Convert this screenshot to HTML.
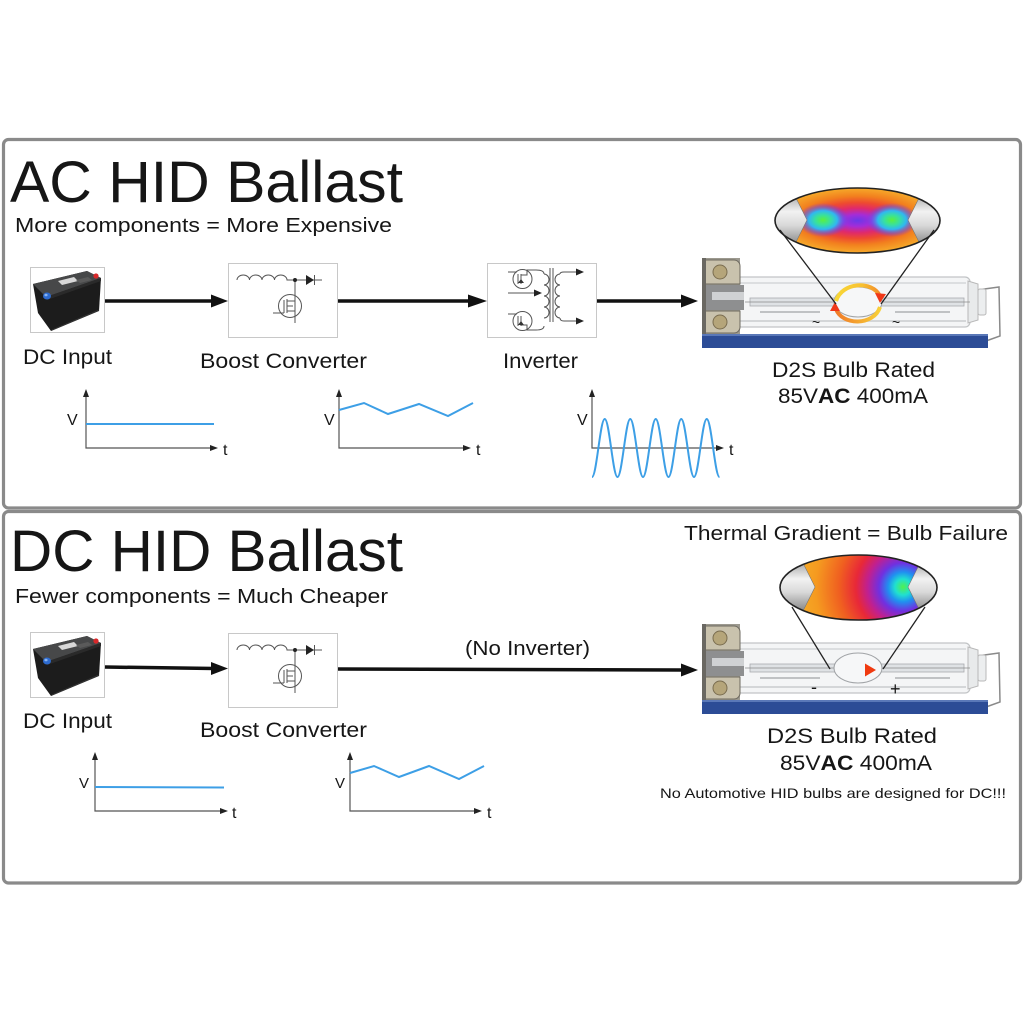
<!DOCTYPE html>
<html><head><meta charset="utf-8"><style>
html,body{margin:0;padding:0;background:#fff;}
svg{display:block;}
text{font-family:"Liberation Sans",Arial,sans-serif;fill:#161616;}
</style></head><body>
<svg width="1024" height="1024" viewBox="0 0 1024 1024" xmlns="http://www.w3.org/2000/svg" xmlns:xlink="http://www.w3.org/1999/xlink">
<defs>
  <radialGradient id="gT" cx="0.5" cy="0.5" r="0.5">
    <stop offset="0" stop-color="#6a38e8"/>
    <stop offset="0.18" stop-color="#a42cd8"/>
    <stop offset="0.38" stop-color="#e02a6a"/>
    <stop offset="0.55" stop-color="#ee4a30"/>
    <stop offset="0.75" stop-color="#f2801e"/>
    <stop offset="1" stop-color="#f6aa2a"/>
  </radialGradient>
  <radialGradient id="blob" cx="0.5" cy="0.5" r="0.5">
    <stop offset="0" stop-color="#5af040"/>
    <stop offset="0.3" stop-color="#38e0a0"/>
    <stop offset="0.55" stop-color="#30b8f0"/>
    <stop offset="0.8" stop-color="#5a5af0" stop-opacity="0.5"/>
    <stop offset="1" stop-color="#7a3cdc" stop-opacity="0"/>
  </radialGradient>
  <radialGradient id="gB" gradientUnits="userSpaceOnUse" cx="903" cy="587" r="115">
    <stop offset="0" stop-color="#50f050"/>
    <stop offset="0.07" stop-color="#20e0d0"/>
    <stop offset="0.13" stop-color="#2090f0"/>
    <stop offset="0.21" stop-color="#7030e0"/>
    <stop offset="0.31" stop-color="#c02090"/>
    <stop offset="0.41" stop-color="#e82838"/>
    <stop offset="0.56" stop-color="#f06020"/>
    <stop offset="0.76" stop-color="#f59a20"/>
    <stop offset="1" stop-color="#f6b42a"/>
  </radialGradient>
  <linearGradient id="elecL" x1="0" y1="0" x2="0" y2="1">
    <stop offset="0" stop-color="#9a9a9a"/>
    <stop offset="0.35" stop-color="#f2f2f2"/>
    <stop offset="0.6" stop-color="#d8d8d8"/>
    <stop offset="1" stop-color="#7a7a7a"/>
  </linearGradient>
  <linearGradient id="arcY" x1="0" y1="0" x2="1" y2="0">
    <stop offset="0" stop-color="#f8d838"/>
    <stop offset="0.6" stop-color="#f8c030"/>
    <stop offset="1" stop-color="#f28a28"/>
  </linearGradient>
  <linearGradient id="arcO" x1="0" y1="0" x2="1" y2="0">
    <stop offset="0" stop-color="#f07a28"/>
    <stop offset="1" stop-color="#f8d038"/>
  </linearGradient>
  <linearGradient id="arrG" x1="0" y1="0" x2="1" y2="0">
    <stop offset="0" stop-color="#f8d030"/>
    <stop offset="1" stop-color="#f03a10"/>
  </linearGradient>
  <clipPath id="clipT"><ellipse cx="857.5" cy="220.5" rx="82.5" ry="32.5"/></clipPath>
  <clipPath id="clipB"><ellipse cx="858.5" cy="587.5" rx="78.5" ry="32.5"/></clipPath>

  <!-- battery -->
  <g id="batt">
    <rect x="30.5" y="267.5" width="74" height="65" fill="#fff" stroke="#c8c8c8" stroke-width="1"/>
    <polygon points="33,284 87,271 101,278 99,311 51,331 38,313" fill="#1c1c1c"/>
    <polygon points="33,284 87,271 101,278 46,297" fill="#474849"/>
    <polygon points="46,297 101,278 101,281 47,300" fill="#2a2a2a"/>
    <polygon points="58,281 74,277 78,281 62,285" fill="#d8d8d8"/>
    <polygon points="76,280 88,277 92,280 80,283" fill="#5a5a5a"/>
    <circle cx="96" cy="276" r="2.6" fill="#d8282a"/>
    <ellipse cx="47" cy="296" rx="4" ry="3.5" fill="#2d6bd0"/>
    <ellipse cx="46" cy="295" rx="1.6" ry="1.3" fill="#8ab4f0"/>
    <line x1="52" y1="330" x2="99" y2="310" stroke="#333" stroke-width="1"/>
  </g>

  <!-- boost converter icon -->
  <g id="boost">
    <rect x="228.5" y="263.5" width="109" height="74" fill="#fff" stroke="#c8c8c8" stroke-width="1"/>
    <g fill="none" stroke="#555" stroke-width="1">
      <path d="M237,280 a6.25,5 0 0 1 12.5,0 a6.25,5 0 0 1 12.5,0 a6.25,5 0 0 1 12.5,0 a6.25,5 0 0 1 12.5,0 L322,280"/>
      <line x1="314.5" y1="275" x2="314.5" y2="285"/>
      <line x1="295" y1="280" x2="295" y2="323"/>
      <circle cx="290" cy="306" r="11.5"/>
      <line x1="273" y1="313" x2="284" y2="313"/>
      <line x1="284" y1="300" x2="284" y2="313"/>
      <line x1="287" y1="299" x2="287" y2="313"/>
      <line x1="287" y1="301" x2="295" y2="301"/>
      <line x1="287" y1="311" x2="295" y2="311"/>
      <line x1="287" y1="306" x2="293" y2="306"/>
    </g>
    <polygon points="306,275 306,285 314,280" fill="#222"/>
    <circle cx="295" cy="280" r="2" fill="#222"/>
  </g>

  <!-- bulb body -->
  <g id="bulb">
    <polyline points="955,293 999,287 1000,336 986,341" fill="none" stroke="#8a8a8a" stroke-width="1.5"/>
    <rect x="702" y="334" width="286" height="14" fill="#2c4c96"/>
    <rect x="702" y="334" width="286" height="2" fill="#5a78b8"/>
    <rect x="736" y="277" width="234" height="50" rx="5" fill="#f4f5f6" stroke="#c2c4c6" stroke-width="1.2"/>
    <line x1="740" y1="283" x2="966" y2="283" stroke="#dcdee0" stroke-width="2"/>
    <line x1="740" y1="321" x2="966" y2="321" stroke="#d4d6d8" stroke-width="2"/>
    <path d="M968,281 L978,284 L978,320 L968,323 Z" fill="#e8eaeb" stroke="#b8b8b8"/>
    <rect x="978" y="289" width="8" height="26" rx="2" fill="#eceeef" stroke="#b8b8b8"/>
    <rect x="750" y="298" width="86" height="8" fill="#dfe2e5" stroke="#a8abae" stroke-width="0.8"/>
    <rect x="880" y="298" width="84" height="8" fill="#dfe2e5" stroke="#a8abae" stroke-width="0.8"/>
    <line x1="745" y1="302" x2="970" y2="302" stroke="#8a8a8a" stroke-width="0.8"/>
    <path d="M760,312 h60 M895,312 h55" stroke="#c0c2c4" stroke-width="2"/>
    <ellipse cx="858" cy="302" rx="24" ry="15" fill="#f6f7f8" stroke="#a0a3a6" stroke-width="1"/>
    <rect x="702" y="258" width="38" height="76" fill="#9c998f"/>
    <path d="M704,260 h30 a6,6 0 0 1 6,6 v18 h-36 z" fill="#c9c2ad" stroke="#6e6a60"/>
    <circle cx="720" cy="272" r="7" fill="#b5a57a" stroke="#7a6d50"/>
    <rect x="702" y="285" width="42" height="25" fill="#8e8f90"/>
    <rect x="712" y="292" width="32" height="8" fill="#cfd1d3"/>
    <path d="M704,311 h36 v16 a6,6 0 0 1 -6,6 h-30 z" fill="#c9c2ad" stroke="#6e6a60"/>
    <circle cx="720" cy="322" r="7" fill="#b5a57a" stroke="#7a6d50"/>
    <rect x="702" y="258" width="4" height="76" fill="#6a6862"/>
  </g>
</defs>

<rect width="1024" height="1024" fill="#fff"/>

<!-- panels -->
<rect x="3.5" y="139.5" width="1017" height="368.5" rx="5" fill="none" stroke="#8a8a8a" stroke-width="3.2"/>
<rect x="3.5" y="511.5" width="1017" height="371.5" rx="5" fill="none" stroke="#8a8a8a" stroke-width="3.2"/>

<!-- ============ TOP: AC ============ -->
<text x="10" y="202" font-size="58" textLength="393" lengthAdjust="spacingAndGlyphs">AC HID Ballast</text>
<text x="15" y="232" font-size="20" textLength="377" lengthAdjust="spacingAndGlyphs">More components = More Expensive</text>

<use xlink:href="#batt"/>
<use xlink:href="#boost"/>

<!-- inverter box -->
<rect x="487.5" y="263.5" width="109" height="74" fill="#fff" stroke="#c8c8c8" stroke-width="1"/>
<g fill="none" stroke="#555" stroke-width="1">
  <circle cx="522.5" cy="279" r="9.5"/>
  <circle cx="522.5" cy="321" r="9.5"/>
  <line x1="508" y1="272" x2="517" y2="272"/>
  <line x1="508" y1="314" x2="517" y2="314"/>
  <line x1="518" y1="274" x2="518" y2="284"/>
  <line x1="521" y1="274" x2="521" y2="284"/>
  <line x1="518" y1="316" x2="518" y2="326"/>
  <line x1="521" y1="316" x2="521" y2="326"/>
  <path d="M521,275 h6 v-5 h9 q8,0 8,4"/>
  <path d="M521,325 h6 v5 h9 q8,0 8,-4"/>
  <path d="M544,274 a5,5.5 0 0 1 0,11 a5,5.5 0 0 1 0,11 a5,5.5 0 0 1 0,11 a5,5.5 0 0 1 0,11"/>
  <line x1="550" y1="268" x2="550" y2="322"/>
  <line x1="553" y1="268" x2="553" y2="322"/>
  <path d="M560,274 a5,5.5 0 0 0 0,11 a5,5.5 0 0 0 0,11 a5,5.5 0 0 0 0,11 a5,5.5 0 0 0 0,11"/>
  <path d="M560,274 q0,-2 4,-2 h14"/>
  <path d="M560,318 q0,3 4,3 h14"/>
  <line x1="508" y1="293" x2="536" y2="293"/>
</g>
<polygon points="534,289.5 542,293 534,296.5" fill="#222"/>
<polygon points="576,268.5 584,272 576,275.5" fill="#222"/>
<polygon points="576,317.5 584,321 576,324.5" fill="#222"/>
<polygon points="518,283 521,279 524,283" fill="#333"/>
<polygon points="518,325 521,321 524,325" fill="#333"/>

<!-- arrows top -->
<line x1="105" y1="301" x2="214" y2="301" stroke="#111" stroke-width="3.5"/>
<polygon points="211,294.5 228,301 211,307.5" fill="#111"/>
<line x1="338" y1="301" x2="471" y2="301" stroke="#111" stroke-width="3.5"/>
<polygon points="468,294.5 487,301 468,307.5" fill="#111"/>
<line x1="597" y1="301" x2="683" y2="301" stroke="#111" stroke-width="3.5"/>
<polygon points="681,294.5 698,301 681,307.5" fill="#111"/>

<text x="23" y="364" font-size="21" textLength="89" lengthAdjust="spacingAndGlyphs">DC Input</text>
<text x="200" y="368" font-size="21" textLength="167" lengthAdjust="spacingAndGlyphs">Boost Converter</text>
<text x="503" y="368" font-size="21" textLength="75" lengthAdjust="spacingAndGlyphs">Inverter</text>

<!-- bulb top -->
<use xlink:href="#bulb"/>
<path d="M836,301 C842,282 872,280 880,296" fill="none" stroke="url(#arcY)" stroke-width="4"/>
<path d="M880,307 C874,326 842,326 836,309" fill="none" stroke="url(#arcO)" stroke-width="4"/>
<polygon points="875,293 886,294 880,303" fill="#f03818"/>
<polygon points="830,311 840,311 835,302" fill="#f03818"/>
<text x="812" y="327" font-size="14">~</text>
<text x="892" y="327" font-size="14">~</text>

<g clip-path="url(#clipT)">
  <ellipse cx="857.5" cy="220.5" rx="82.5" ry="32.5" fill="url(#gT)"/>
  <ellipse cx="823" cy="220" rx="26" ry="17" fill="url(#blob)"/>
  <ellipse cx="892" cy="220" rx="26" ry="17" fill="url(#blob)"/>
  <polygon points="770,192 795,196 807,220 795,244 770,248" fill="url(#elecL)" stroke="#777" stroke-width="0.6"/>
  <polygon points="945,192 920,196 908,220 920,244 945,248" fill="url(#elecL)" stroke="#777" stroke-width="0.6"/>
</g>
<ellipse cx="857.5" cy="220.5" rx="82.5" ry="32.5" fill="none" stroke="#222" stroke-width="1.6"/>
<line x1="780" y1="230" x2="836" y2="304" stroke="#222" stroke-width="1.3"/>
<line x1="934" y1="230" x2="881" y2="304" stroke="#222" stroke-width="1.3"/>

<text x="772" y="377" font-size="21" textLength="163" lengthAdjust="spacingAndGlyphs">D2S Bulb Rated</text>
<text x="778" y="403" font-size="21" textLength="150" lengthAdjust="spacingAndGlyphs">85V<tspan font-weight="bold">AC</tspan> 400mA</text>

<!-- graphs top -->
<g stroke="#555" stroke-width="1.2" fill="none">
  <polyline points="86,394 86,448 212,448"/>
  <polyline points="339,394 339,448 465,448"/>
  <polyline points="592,394 592,448 718,448"/>
</g>
<g fill="#222">
  <polygon points="83,397 86,389 89,397"/>
  <polygon points="210,445 218,448 210,451"/>
  <polygon points="336,397 339,389 342,397"/>
  <polygon points="463,445 471,448 463,451"/>
  <polygon points="589,397 592,389 595,397"/>
  <polygon points="716,445 724,448 716,451"/>
</g>
<line x1="86" y1="424" x2="214" y2="424" stroke="#3d9fe6" stroke-width="2"/>
<polyline points="339,410 364,403 388,414 419,404 448,416 473,403" fill="none" stroke="#3d9fe6" stroke-width="2"/>
<path d="M592,477 C596.64,477 600.11,419 604.75,419 S612.86,477 617.5,477 S625.61,419 630.25,419 S638.36,477 643,477 S651.11,419 655.75,419 S663.86,477 668.5,477 S676.61,419 681.25,419 S689.36,477 694,477 S702.11,419 706.75,419 S714.86,477 719.5,477" fill="none" stroke="#3d9fe6" stroke-width="2"/>
<text x="67" y="425" font-size="16">V</text>
<text x="223" y="455" font-size="16">t</text>
<text x="324" y="425" font-size="16">V</text>
<text x="476" y="455" font-size="16">t</text>
<text x="577" y="425" font-size="16">V</text>
<text x="729" y="455" font-size="16">t</text>

<!-- ============ BOTTOM: DC ============ -->
<text x="10" y="571" font-size="58" textLength="393" lengthAdjust="spacingAndGlyphs">DC HID Ballast</text>
<text x="15" y="603" font-size="20" textLength="373" lengthAdjust="spacingAndGlyphs">Fewer components = Much Cheaper</text>
<text x="684" y="540" font-size="20" textLength="324" lengthAdjust="spacingAndGlyphs">Thermal Gradient = Bulb Failure</text>

<use xlink:href="#batt" y="365"/>
<use xlink:href="#boost" y="370"/>

<line x1="105" y1="667" x2="214" y2="668.5" stroke="#111" stroke-width="3.5"/>
<polygon points="211,662 228,668.5 211,675" fill="#111"/>
<line x1="338" y1="669" x2="683" y2="670" stroke="#111" stroke-width="3.5"/>
<polygon points="681,663.5 698,670 681,676.5" fill="#111"/>
<text x="465" y="655" font-size="20" textLength="125" lengthAdjust="spacingAndGlyphs">(No Inverter)</text>

<text x="23" y="728" font-size="21" textLength="89" lengthAdjust="spacingAndGlyphs">DC Input</text>
<text x="200" y="737" font-size="21" textLength="167" lengthAdjust="spacingAndGlyphs">Boost Converter</text>

<!-- bulb bottom -->
<use xlink:href="#bulb" y="366"/>
<line x1="847" y1="670" x2="868" y2="670" stroke="url(#arrG)" stroke-width="4"/>
<polygon points="865,663.5 876,670 865,676.5" fill="#f03a10"/>
<text x="811" y="693" font-size="18">-</text>
<text x="890" y="695" font-size="18">+</text>

<g clip-path="url(#clipB)">
  <ellipse cx="858.5" cy="587.5" rx="78.5" ry="32.5" fill="url(#gB)"/>
  <polygon points="775,560 803,563 815,587 803,611 775,614" fill="url(#elecL)" stroke="#777" stroke-width="0.6"/>
  <polygon points="945,560 920,563 908,587 920,611 945,614" fill="url(#elecL)" stroke="#777" stroke-width="0.6"/>
</g>
<ellipse cx="858.5" cy="587.5" rx="78.5" ry="32.5" fill="none" stroke="#222" stroke-width="1.6"/>
<line x1="792" y1="607" x2="830" y2="669" stroke="#222" stroke-width="1.3"/>
<line x1="925" y1="607" x2="883" y2="669" stroke="#222" stroke-width="1.3"/>

<text x="767" y="743" font-size="21" textLength="170" lengthAdjust="spacingAndGlyphs">D2S Bulb Rated</text>
<text x="780" y="770" font-size="21" textLength="152" lengthAdjust="spacingAndGlyphs">85V<tspan font-weight="bold">AC</tspan> 400mA</text>
<text x="660" y="798" font-size="14" textLength="346" lengthAdjust="spacingAndGlyphs">No Automotive HID bulbs are designed for DC!!!</text>

<!-- graphs bottom -->
<g stroke="#555" stroke-width="1.2" fill="none">
  <polyline points="95,757 95,811 222,811"/>
  <polyline points="350,757 350,811 476,811"/>
</g>
<g fill="#222">
  <polygon points="92,760 95,752 98,760"/>
  <polygon points="220,808 228,811 220,814"/>
  <polygon points="347,760 350,752 353,760"/>
  <polygon points="474,808 482,811 474,814"/>
</g>
<line x1="95" y1="787" x2="224" y2="787.5" stroke="#3d9fe6" stroke-width="2"/>
<polyline points="350,773 374,766 399,777 429,766 459,779 484,766" fill="none" stroke="#3d9fe6" stroke-width="2"/>
<text x="79" y="788" font-size="15" textLength="10" lengthAdjust="spacingAndGlyphs">V</text>
<text x="232" y="818" font-size="16">t</text>
<text x="335" y="788" font-size="15" textLength="10" lengthAdjust="spacingAndGlyphs">V</text>
<text x="487" y="818" font-size="16">t</text>
</svg>
</body></html>
